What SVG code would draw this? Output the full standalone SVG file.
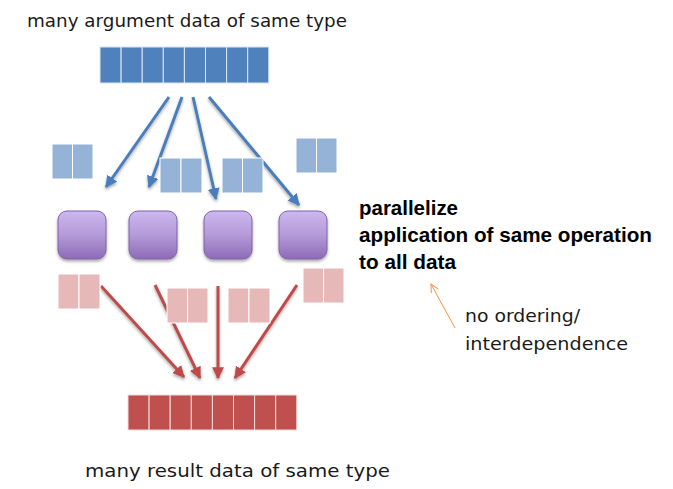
<svg xmlns="http://www.w3.org/2000/svg" width="673" height="489" viewBox="0 0 673 489">
<defs>
<linearGradient id="pg" x1="0" y1="0" x2="0" y2="1">
<stop offset="0" stop-color="#CDB8EE"/>
<stop offset="0.5" stop-color="#B49AD9"/>
<stop offset="1" stop-color="#8D6BB6"/>
</linearGradient>
<marker id="ab" viewBox="0 0 10 10" refX="9" refY="5" markerWidth="4" markerHeight="4" orient="auto" markerUnits="strokeWidth">
<path d="M0,0 L10,5 L0,10 z" fill="#4A7EBB"/>
</marker>
<marker id="ar" viewBox="0 0 10 10" refX="9" refY="5" markerWidth="4" markerHeight="4" orient="auto" markerUnits="strokeWidth">
<path d="M0,0 L10,5 L0,10 z" fill="#BE4B48"/>
</marker>
<marker id="ao" viewBox="0 0 10 10" refX="9" refY="5" markerWidth="10" markerHeight="10" orient="auto" markerUnits="strokeWidth">
<path d="M1,1 L9,5 L1,9" fill="none" stroke="#F79646" stroke-width="1"/>
</marker>
<filter id="sh" x="-20%" y="-20%" width="140%" height="150%">
<feDropShadow dx="0" dy="2" stdDeviation="1.5" flood-color="#000" flood-opacity="0.35"/>
</filter>
</defs>
<style>
.db{fill:#4F81BD;stroke:#DCE6F2;stroke-width:1}
.lb{fill:#95B3D7;stroke:#FFFFFF;stroke-width:1}
.dr{fill:#C0504D;stroke:#F2DCDB;stroke-width:1}
.lr{fill:#E6B9B8;stroke:#FFFFFF;stroke-width:1}
.pb{fill:url(#pg);stroke:#7F63A8;stroke-width:1}
.ba{stroke:#4A7EBB;stroke-width:3;fill:none;marker-end:url(#ab)}
.ra{stroke:#BE4B48;stroke-width:3;fill:none;marker-end:url(#ar)}
.t{font-family:"DejaVu Sans",Verdana,sans-serif;fill:#1a1a1a}
.b{font-family:"Liberation Sans",Arial,sans-serif;font-weight:bold;fill:#000}
</style>

<text class="t" x="27" y="27" font-size="18" textLength="320" lengthAdjust="spacingAndGlyphs">many argument data of same type</text>

<g id="input-array">
<rect class="db" x="100" y="47" width="21.1" height="36"/>
<rect class="db" x="121.1" y="47" width="21.1" height="36"/>
<rect class="db" x="142.2" y="47" width="21.1" height="36"/>
<rect class="db" x="163.3" y="47" width="21.1" height="36"/>
<rect class="db" x="184.4" y="47" width="21.1" height="36"/>
<rect class="db" x="205.5" y="47" width="21.1" height="36"/>
<rect class="db" x="226.6" y="47" width="21.1" height="36"/>
<rect class="db" x="247.7" y="47" width="21.1" height="36"/>
</g>

<g id="connectors">
<g filter="url(#sh)">
<line class="ba" x1="169" y1="97" x2="106" y2="187"/>
<line class="ba" x1="182" y1="97" x2="149" y2="187"/>
<line class="ba" x1="193" y1="97" x2="216" y2="199"/>
<line class="ba" x1="209" y1="97" x2="299" y2="205"/>
<line class="ra" x1="101" y1="286" x2="184" y2="377"/>
<line class="ra" x1="155" y1="285" x2="200" y2="378"/>
<line class="ra" x1="218" y1="286" x2="218" y2="378"/>
<line class="ra" x1="297" y1="285" x2="235" y2="378"/>
</g>
<line x1="455" y1="328" x2="431" y2="284" stroke="#F79646" stroke-width="1" marker-end="url(#ao)"/>
</g>

<g id="in-chunk-1"><rect class="lb" x="52" y="144" width="20.5" height="35"/><rect class="lb" x="72.5" y="144" width="20.5" height="35"/></g>
<g id="in-chunk-2"><rect class="lb" x="160" y="158" width="21" height="35"/><rect class="lb" x="181" y="158" width="21" height="35"/></g>
<g id="in-chunk-3"><rect class="lb" x="222" y="158" width="20.5" height="35"/><rect class="lb" x="242.5" y="158" width="20.5" height="35"/></g>
<g id="in-chunk-4"><rect class="lb" x="296" y="138" width="20.5" height="35"/><rect class="lb" x="316.5" y="138" width="20.5" height="35"/></g>

<g id="proc-1"><rect class="pb" filter="url(#sh)" x="58" y="211" width="48" height="48" rx="9"/></g>
<g id="proc-2"><rect class="pb" filter="url(#sh)" x="129" y="211" width="48" height="48" rx="9"/></g>
<g id="proc-3"><rect class="pb" filter="url(#sh)" x="204" y="211" width="48" height="48" rx="9"/></g>
<g id="proc-4"><rect class="pb" filter="url(#sh)" x="279" y="211" width="48" height="48" rx="9"/></g>

<g id="out-chunk-1"><rect class="lr" x="58" y="274" width="21" height="35"/><rect class="lr" x="79" y="274" width="21" height="35"/></g>
<g id="out-chunk-2"><rect class="lr" x="167" y="288" width="20.5" height="35"/><rect class="lr" x="187.5" y="288" width="20.5" height="35"/></g>
<g id="out-chunk-3"><rect class="lr" x="228" y="288" width="21" height="35"/><rect class="lr" x="249" y="288" width="21" height="35"/></g>
<g id="out-chunk-4"><rect class="lr" x="303" y="268" width="20.5" height="35"/><rect class="lr" x="323.5" y="268" width="20.5" height="35"/></g>

<g id="output-array">
<rect class="dr" x="128" y="395" width="21.1" height="35"/>
<rect class="dr" x="149.1" y="395" width="21.1" height="35"/>
<rect class="dr" x="170.2" y="395" width="21.1" height="35"/>
<rect class="dr" x="191.3" y="395" width="21.1" height="35"/>
<rect class="dr" x="212.4" y="395" width="21.1" height="35"/>
<rect class="dr" x="233.5" y="395" width="21.1" height="35"/>
<rect class="dr" x="254.6" y="395" width="21.1" height="35"/>
<rect class="dr" x="275.7" y="395" width="21.1" height="35"/>
</g>

<g id="label-parallelize">
<text class="b" x="359" y="215" font-size="20.5" textLength="99" lengthAdjust="spacingAndGlyphs">parallelize</text>
<text class="b" x="359" y="242" font-size="20.5" textLength="293" lengthAdjust="spacingAndGlyphs">application of same operation</text>
<text class="b" x="359" y="269" font-size="20.5" textLength="97" lengthAdjust="spacingAndGlyphs">to all data</text>
</g>

<g id="label-ordering">
<text class="t" x="465" y="322" font-size="18" fill="#333" textLength="115" lengthAdjust="spacingAndGlyphs">no ordering/</text>
<text class="t" x="465" y="350" font-size="18" textLength="163" lengthAdjust="spacingAndGlyphs">interdependence</text>
</g>

<text class="t" x="85" y="477" font-size="18" textLength="305" lengthAdjust="spacingAndGlyphs">many result data of same type</text>
</svg>
